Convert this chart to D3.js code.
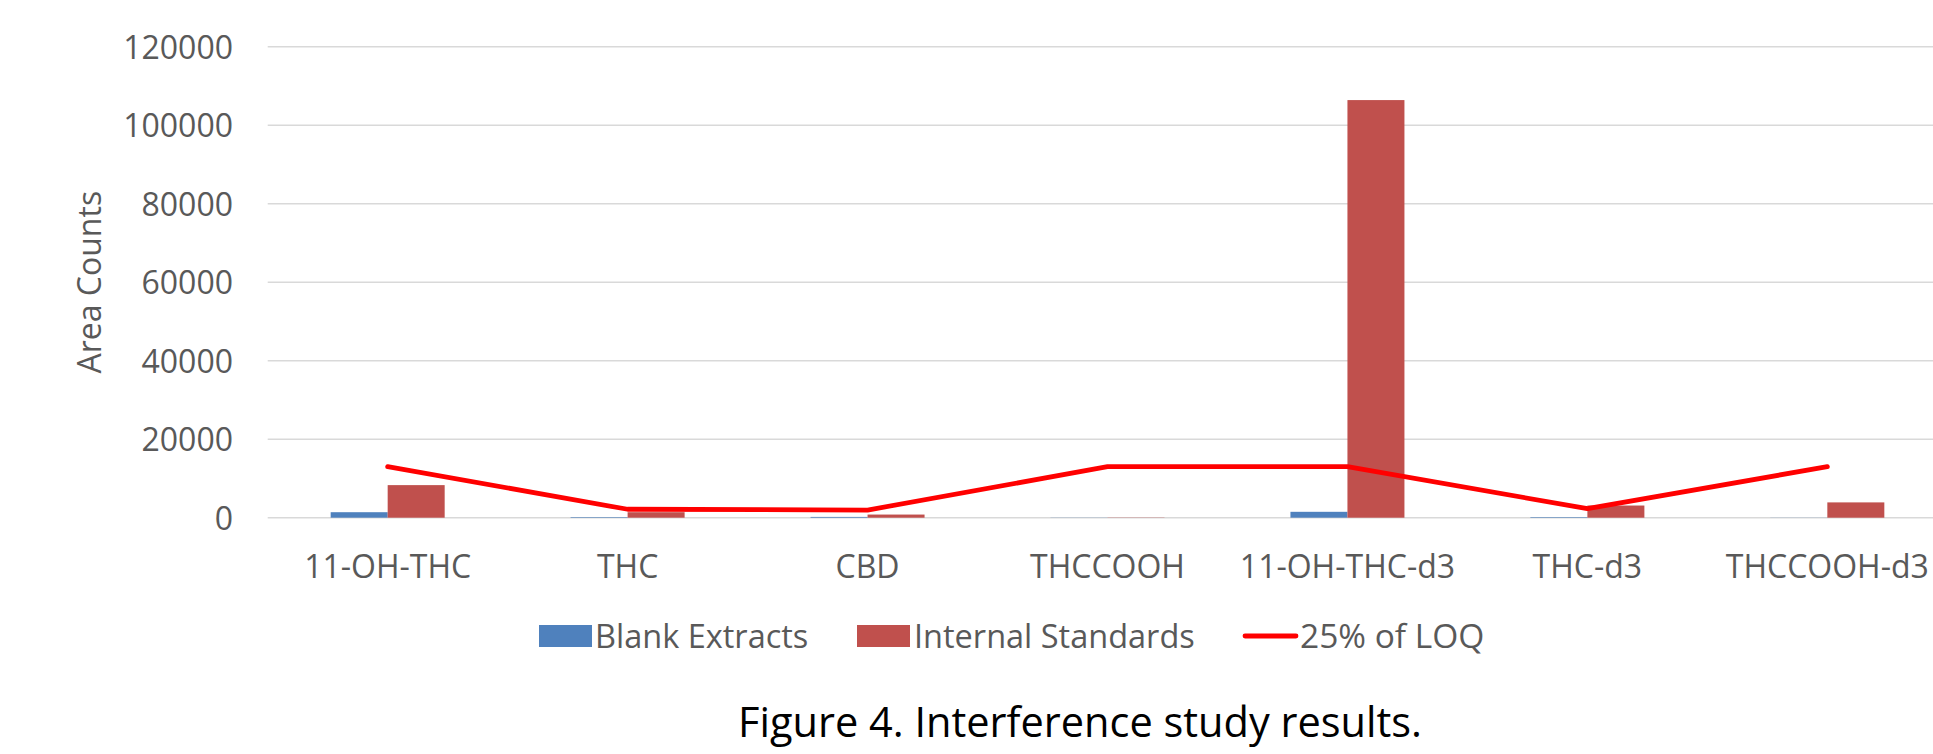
<!DOCTYPE html>
<html>
<head>
<meta charset="utf-8">
<script src="https://cdn.jsdelivr.net/npm/d3@7"></script>
<style>
  html, body { margin: 0; padding: 0; background: #ffffff; }
  svg { display: block; }
  text { font-family: "Open Sans", "DejaVu Sans", sans-serif; }
</style>
</head>
<body>
<svg id="chart" width="1933" height="754"></svg>
<script>
const categories = ["11-OH-THC", "THC", "CBD", "THCCOOH", "11-OH-THC-d3", "THC-d3", "THCCOOH-d3"];
const blankExtracts = [1400, 150, 200, 40, 1500, 150, 30];
const internalStandards = [8300, 1400, 800, 60, 106400, 3100, 3900];
const loq25 = [13000, 2150, 1950, 13000, 13000, 2300, 13000];
const yTicks = [0, 20000, 40000, 60000, 80000, 100000, 120000];
const seriesNames = ["Blank Extracts", "Internal Standards"];
const lineName = "25% of LOQ";
const yTitle = "Area Counts";
const caption = "Figure 4. Interference study results.";

const colors = { "Blank Extracts": "#4F81BD", "Internal Standards": "#C0504D", line: "#FF0000" };

const svg = d3.select("#chart");
const plot = { left: 267.7, right: 1947.3, top: 46.7, bottom: 517.7 };

const x0 = d3.scaleBand().domain(categories).range([plot.left, plot.right]).padding(0);
const barW = 57;
const bw = x0.bandwidth();
const x1 = d3.scaleBand().domain(seriesNames).range([bw / 2 - barW, bw / 2 + barW]).padding(0);
const y = d3.scaleLinear().domain([0, 120000]).range([plot.bottom, plot.top]);

// gridlines
svg.append("g").selectAll("line").data(yTicks).join("line")
  .attr("x1", plot.left).attr("x2", plot.right)
  .attr("y1", d => y(d)).attr("y2", d => y(d))
  .attr("stroke", "#D9D9D9").attr("stroke-width", 1.5);

// y axis labels
const yAxis = d3.axisLeft(y).tickValues(yTicks).tickSize(0).tickPadding(0).tickFormat(d3.format("d"));
const yg = svg.append("g").attr("transform", `translate(233,0)`).call(yAxis);
yg.select(".domain").remove();
yg.selectAll("text").attr("font-family", "'Open Sans', sans-serif").attr("font-size", 32)
  .attr("fill", "#595959").attr("dy", "0.36em").attr("x", 0);

// y title
svg.append("text").attr("transform", `translate(101,${(plot.top + plot.bottom) / 2}) rotate(-90)`)
  .attr("text-anchor", "middle").attr("font-size", 32).attr("fill", "#595959").text(yTitle);

// x axis labels
const xAxis = d3.axisBottom(x0).tickSize(0).tickPadding(0);
const xg = svg.append("g").attr("transform", `translate(0,578)`).call(xAxis);
xg.select(".domain").remove();
xg.selectAll("text").attr("font-family", "'Open Sans', sans-serif").attr("font-size", 32)
  .attr("fill", "#595959").attr("dy", 0).attr("y", 0);

// bars
const rows = categories.map((c, i) => ({ cat: c, vals: [blankExtracts[i], internalStandards[i]] }));
const groups = svg.append("g").selectAll("g").data(rows).join("g")
  .attr("transform", d => `translate(${x0(d.cat)},0)`);
groups.selectAll("rect").data(d => seriesNames.map((s, k) => ({ s, v: d.vals[k] }))).join("rect")
  .attr("x", d => x1(d.s)).attr("width", x1.bandwidth())
  .attr("y", d => y(d.v)).attr("height", d => y(0) - y(d.v))
  .attr("fill", d => colors[d.s]);

// line
const line = d3.line().x((d, i) => x0(categories[i]) + bw / 2).y(d => y(d));
svg.append("path").datum(loq25).attr("d", line).attr("fill", "none")
  .attr("stroke", colors.line).attr("stroke-width", 4.8)
  .attr("stroke-linecap", "round").attr("stroke-linejoin", "round");

// legend
const lg = svg.append("g");
const ly = 636;
lg.append("rect").attr("x", 539).attr("y", ly - 11).attr("width", 53).attr("height", 22).attr("fill", colors["Blank Extracts"]);
lg.append("text").attr("x", 595).attr("y", ly).attr("dy", "0.36em").attr("font-size", 32.5).attr("fill", "#595959").text(seriesNames[0]);
lg.append("rect").attr("x", 857).attr("y", ly - 11).attr("width", 53).attr("height", 22).attr("fill", colors["Internal Standards"]);
lg.append("text").attr("x", 914).attr("y", ly).attr("dy", "0.36em").attr("font-size", 32.5).attr("fill", "#595959").text(seriesNames[1]);
lg.append("line").attr("x1", 1245).attr("x2", 1296).attr("y1", ly).attr("y2", ly)
  .attr("stroke", colors.line).attr("stroke-width", 4.8).attr("stroke-linecap", "round");
lg.append("text").attr("x", 1300).attr("y", ly).attr("dy", "0.36em").attr("font-size", 33.5).attr("fill", "#595959").text(lineName);

// caption
svg.append("text").attr("x", 1080).attr("y", 737).attr("text-anchor", "middle")
  .attr("font-size", 41.5).attr("fill", "#000000").text(caption);
</script>
</body>
</html>
